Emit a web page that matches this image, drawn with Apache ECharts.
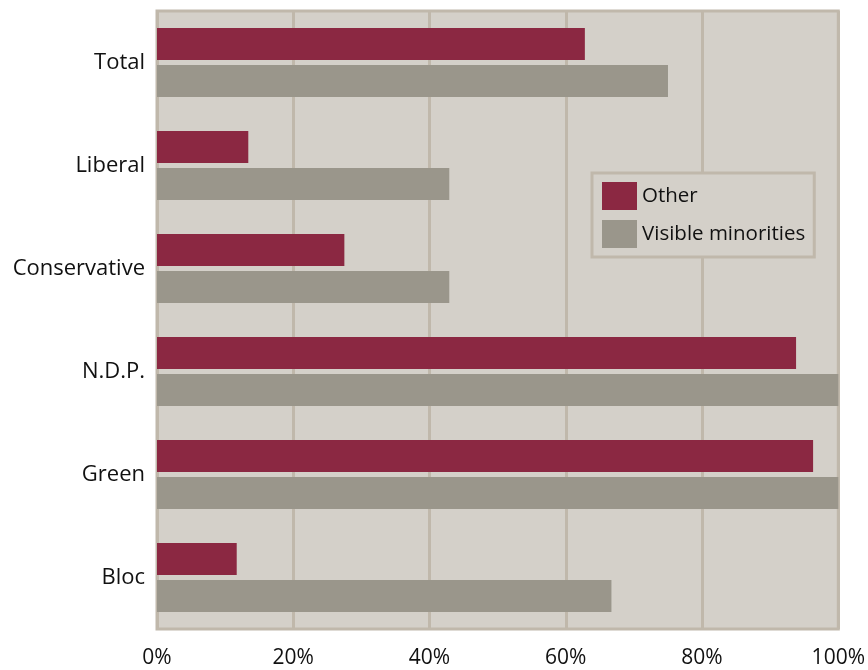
<!DOCTYPE html>
<html><head><meta charset="utf-8">
<script src="https://cdn.jsdelivr.net/npm/echarts@6/dist/echarts.min.js"></script>
<style>html,body{margin:0;padding:0;background:#fff}#c{width:868px;height:670px}</style>
</head><body><div id="c"></div>
<script>
const categories = ['Total','Liberal','Conservative','N.D.P.','Green','Bloc'];
const otherValues = [62.8, 13.4, 27.5, 93.8, 96.3, 11.7];
const visibleMinorityValues = [75.0, 42.9, 42.9, 100, 100, 66.7];
const xTicks = [0, 20, 40, 60, 80, 100];

const chart = echarts.init(document.getElementById('c'));
const font = '"Open Sans", "DejaVu Sans", sans-serif';
chart.setOption({
  animation: false,
  textStyle: {fontFamily: font},
  grid: {left: 157, right: 29, top: 11, bottom: 41, show: true,
    backgroundColor: '#d4d0c9', borderColor: '#c0b8ab', borderWidth: 3},
  legend: {
    left: 592, top: 173, orient: 'vertical',
    data: ['Other', 'Visible minorities'],
    backgroundColor: '#d4d0c9', borderColor: '#c0b8ab', borderWidth: 3,
    padding: [9, 9, 9, 10], itemWidth: 35, itemHeight: 28, itemGap: 10,
    icon: 'rect',
    textStyle: {fontSize: 20.5, color: '#111', fontFamily: font}
  },
  xAxis: {
    type: 'value', min: xTicks[0], max: xTicks[xTicks.length-1], interval: 20,
    axisLabel: {formatter: '{value}%', fontSize: 21, color: '#111', margin: 19},
    axisLine: {show: false}, axisTick: {show: false},
    splitLine: {show: true, lineStyle: {color: '#c0b8ab', width: 3}}
  },
  yAxis: {
    type: 'category', data: categories, inverse: true,
    axisLabel: {fontSize: 22, color: '#111', margin: 12},
    axisLine: {show: false}, axisTick: {show: false}
  },
  series: [
    {name: 'Other', type: 'bar', data: otherValues, barWidth: 32, barGap: '16%',
     itemStyle: {color: '#8b2842'}},
    {name: 'Visible minorities', type: 'bar', data: visibleMinorityValues, barWidth: 32, barGap: '16%',
     itemStyle: {color: '#9a968b'}}
  ]
});
</script></body></html>
